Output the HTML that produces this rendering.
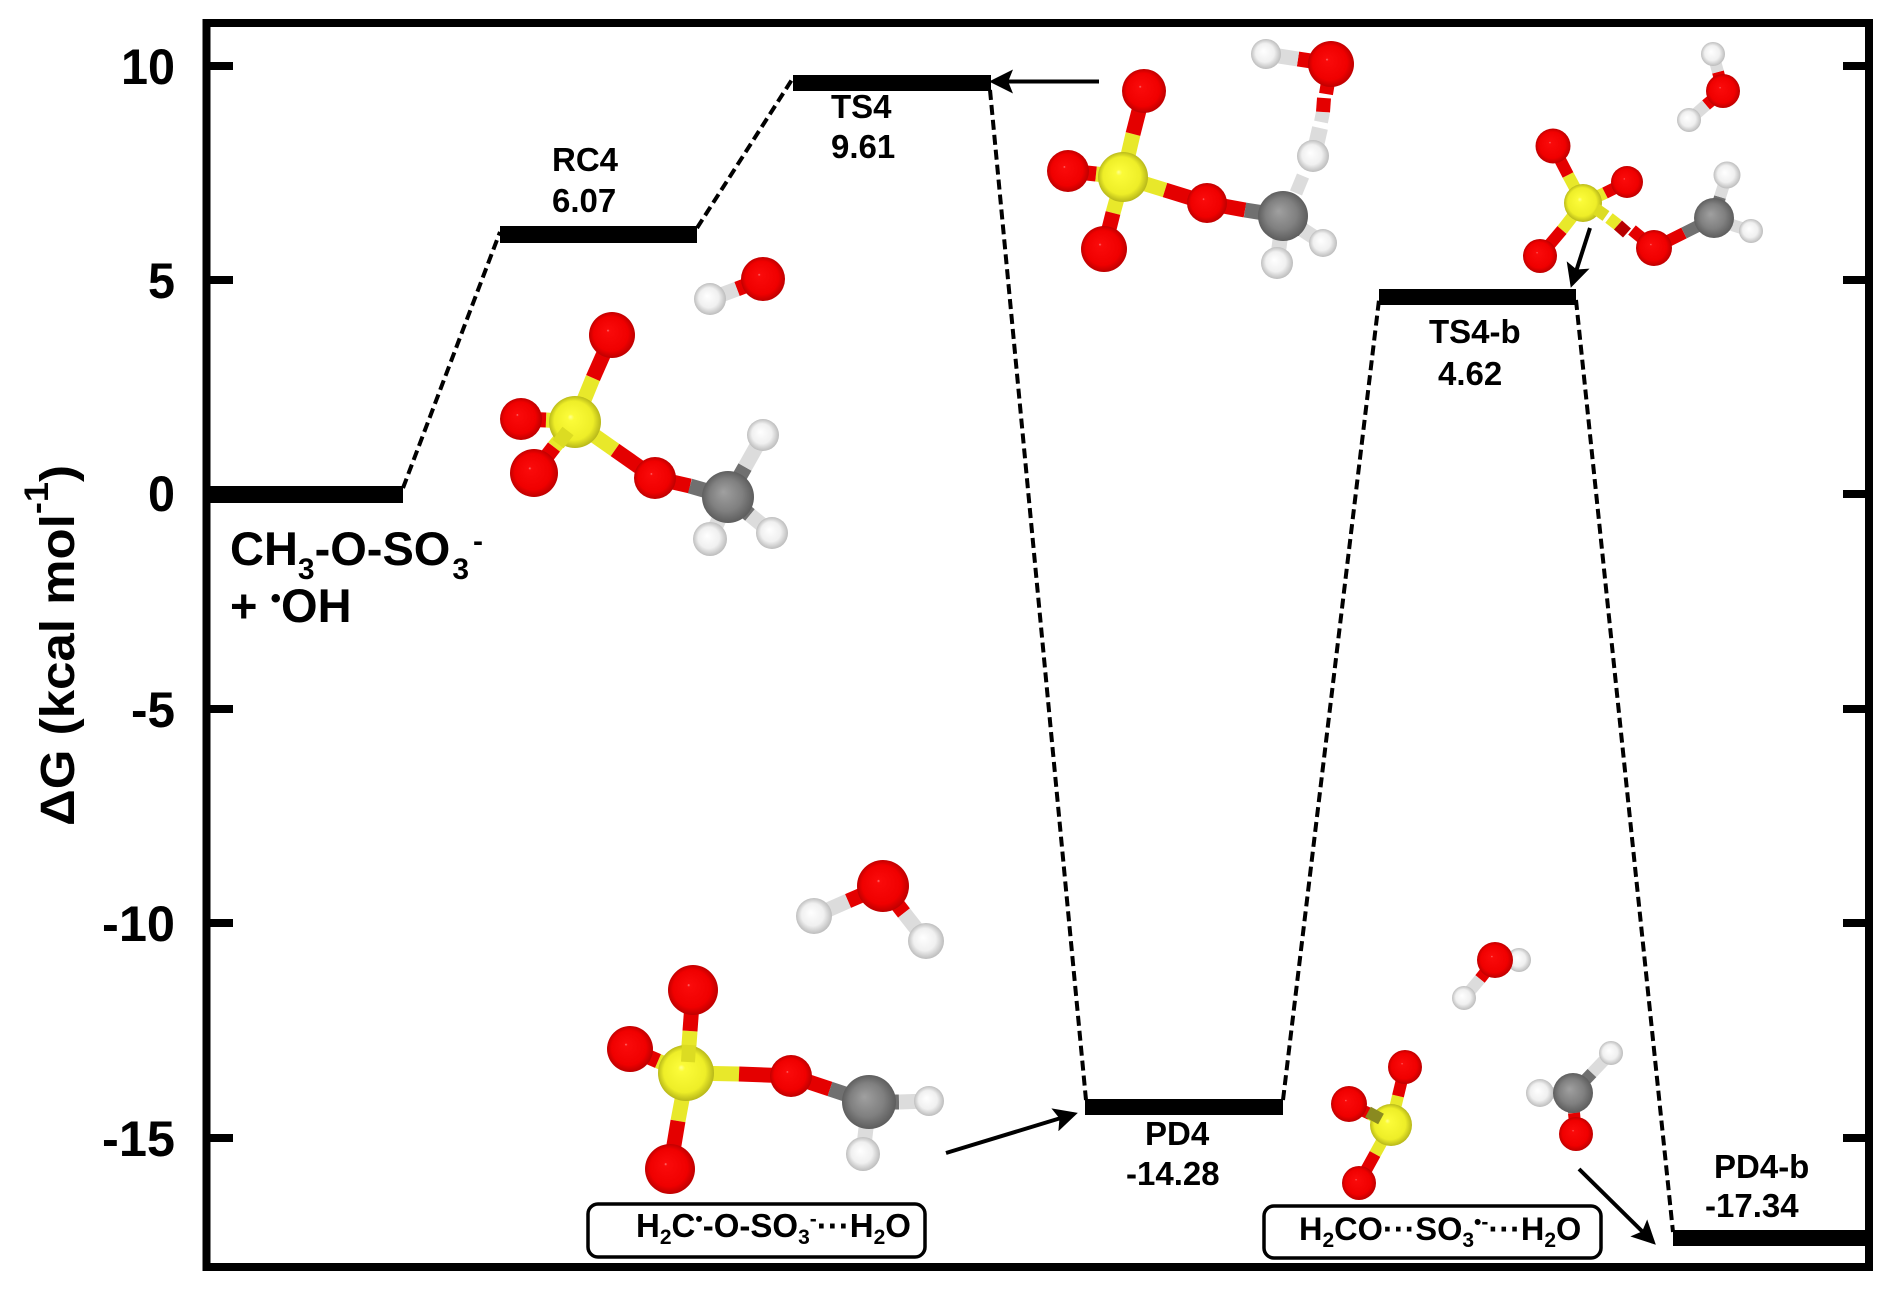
<!DOCTYPE html>
<html><head><meta charset="utf-8"><style>
html,body{margin:0;padding:0;background:#fff;width:1892px;height:1289px;overflow:hidden}
svg{display:block}
text{font-family:"Liberation Sans",sans-serif;font-weight:bold;fill:#000}
.y{stroke:#e8e82a}.r{stroke:#e40000}.g{stroke:#707070}.w{stroke:#dcdcdc}
line.b{stroke-width:15}
g.s line{stroke-width:12}
</style></head><body>
<svg xmlns="http://www.w3.org/2000/svg" width="1892" height="1289" viewBox="0 0 1892 1289">
<defs>
<radialGradient id="R" cx=".5" cy=".5" r=".52" fx=".41" fy=".4"><stop offset="0" stop-color="#ff8080"/><stop offset=".06" stop-color="#fa0a0a"/><stop offset=".72" stop-color="#f00000"/><stop offset="1" stop-color="#b80000"/></radialGradient>
<radialGradient id="Y" cx=".5" cy=".5" r=".52" fx=".41" fy=".4"><stop offset="0" stop-color="#ffff90"/><stop offset=".12" stop-color="#fbfb38"/><stop offset=".72" stop-color="#eeee28"/><stop offset="1" stop-color="#b0b018"/></radialGradient>
<radialGradient id="G" cx=".5" cy=".5" r=".52" fx=".41" fy=".4"><stop offset="0" stop-color="#a0a0a0"/><stop offset=".6" stop-color="#808080"/><stop offset="1" stop-color="#5a5a5a"/></radialGradient>
<radialGradient id="W" cx=".5" cy=".5" r=".52" fx=".41" fy=".4"><stop offset="0" stop-color="#fff"/><stop offset=".6" stop-color="#f0f0f0"/><stop offset="1" stop-color="#b8b8b8"/></radialGradient>
<marker id="a" markerWidth="6" markerHeight="6" refX="5" refY="3" orient="auto" markerUnits="strokeWidth"><path d="M0 0L6 3L0 6L1.200 3Z" fill="#000"/></marker>
</defs>

<!-- frame -->
<rect x="206.500" y="23" width="1662.500" height="1244" fill="none" stroke="#000" stroke-width="8"/>
<g fill="#000">
<rect x="210" y="62" width="23" height="8"/><rect x="210" y="276" width="23" height="8"/><rect x="210" y="705" width="23" height="8"/><rect x="210" y="919" width="23" height="8"/><rect x="210" y="1134" width="23" height="8"/>
<rect x="1843" y="62" width="23" height="8"/><rect x="1843" y="276" width="23" height="8"/><rect x="1843" y="490" width="23" height="8"/><rect x="1843" y="705" width="23" height="8"/><rect x="1843" y="919" width="23" height="8"/><rect x="1843" y="1134" width="23" height="8"/>
<!-- levels -->
<rect x="210" y="486" width="193" height="17"/>
<rect x="500" y="226" width="197" height="17"/>
<rect x="793" y="75" width="198" height="16"/>
<rect x="1379" y="289" width="197" height="16"/>
<rect x="1085" y="1099" width="198" height="16"/>
<rect x="1673" y="1230" width="192" height="16"/>
</g>
<!-- dashed connectors -->
<g stroke="#000" stroke-width="4" stroke-dasharray="10 5" fill="none">
<path d="M403 488L500 232"/><path d="M697 228L793 78"/><path d="M990 90L1086 1100"/><path d="M1283 1100L1379 300"/><path d="M1576 300L1673 1232"/>
</g>
<!-- arrows -->
<g stroke="#000" stroke-width="4" fill="none">
<line x1="1099" y1="81.500" x2="993" y2="81.500" marker-end="url(#a)"/>
<line x1="946" y1="1153" x2="1074" y2="1114" marker-end="url(#a)"/>
<line x1="1579" y1="1169" x2="1653" y2="1242" marker-end="url(#a)"/>
</g>

<!-- axis labels -->
<g font-size="50">
<text x="121" y="84" textLength="54" lengthAdjust="spacingAndGlyphs">10</text>
<text x="148" y="298" textLength="27" lengthAdjust="spacingAndGlyphs">5</text>
<text x="148" y="511" textLength="27" lengthAdjust="spacingAndGlyphs">0</text>
<text x="131" y="727" textLength="44" lengthAdjust="spacingAndGlyphs">-5</text>
<text x="102" y="941" textLength="73" lengthAdjust="spacingAndGlyphs">-10</text>
<text x="102" y="1156" textLength="73" lengthAdjust="spacingAndGlyphs">-15</text>
</g>
<text transform="translate(74,826) rotate(-90)" font-size="48" textLength="361" lengthAdjust="spacingAndGlyphs">ΔG (kcal mol<tspan font-size="34" dy="-26">-1</tspan><tspan dy="26">)</tspan></text>

<!-- level labels -->
<g font-size="33">
<text x="552" y="171">RC4</text><text x="552" y="212">6.07</text>
<text x="831" y="118">TS4</text><text x="831" y="158">9.61</text>
<text x="1429" y="343">TS4-b</text><text x="1438" y="385">4.62</text>
<text x="1145" y="1145">PD4</text><text x="1126" y="1185">-14.28</text>
<text x="1714" y="1178">PD4-b</text><text x="1705" y="1217">-17.34</text>
</g>
<text x="230" y="565" font-size="47">CH<tspan font-size="30" dy="14">3</tspan><tspan dy="-14">-O-SO</tspan><tspan font-size="30" dy="14" dx="2">3</tspan><tspan font-size="30" dy="-28" dx="4">-</tspan></text>
<text x="230" y="622" font-size="47">+ <tspan font-size="30" dy="-14">•</tspan><tspan dy="14">OH</tspan></text>

<!-- boxes -->
<rect x="588" y="1204" width="337" height="53" rx="10" fill="#fff" stroke="#000" stroke-width="3.500"/>
<rect x="1264" y="1206" width="337" height="52" rx="10" fill="#fff" stroke="#000" stroke-width="3.500"/>
<text x="636" y="1237" font-size="33">H<tspan font-size="21" dy="7">2</tspan><tspan dy="-7">C</tspan><tspan font-size="21" dy="-11">•</tspan><tspan dy="11">-O-SO</tspan><tspan font-size="21" dy="7">3</tspan><tspan font-size="21" dy="-18">-</tspan><tspan dy="11">···H</tspan><tspan font-size="21" dy="7">2</tspan><tspan dy="-7">O</tspan></text>
<text x="1299" y="1240" font-size="32.500">H<tspan font-size="21" dy="7">2</tspan><tspan dy="-7">CO···SO</tspan><tspan font-size="21" dy="7">3</tspan><tspan font-size="21" dy="-18">•-</tspan><tspan dy="11">···H</tspan><tspan font-size="21" dy="7">2</tspan><tspan dy="-7">O</tspan></text>

<!-- molecule RC4 -->
<g>
<line class="b y" x1="575" y1="422" x2="593" y2="378"/><line class="b r" x1="593" y1="378" x2="612" y2="335"/>
<line class="b y" x1="575" y1="422" x2="546" y2="420"/><line class="b r" x1="546" y1="420" x2="521" y2="419"/>
<line class="b y" x1="575" y1="422" x2="554" y2="447"/><line class="b r" x1="554" y1="447" x2="534" y2="473"/>
<line class="b y" x1="575" y1="422" x2="615" y2="450"/><line class="b r" x1="615" y1="450" x2="655" y2="478"/>
<line class="b r" x1="655" y1="478" x2="690" y2="486"/><line class="b g" x1="690" y1="486" x2="728" y2="497"/>
<line class="b g" x1="728" y1="497" x2="745" y2="467"/><line class="b w" x1="745" y1="467" x2="763" y2="435"/>
<line class="b g" x1="728" y1="497" x2="720" y2="517"/><line class="b w" x1="720" y1="517" x2="710" y2="539"/>
<line class="b g" x1="728" y1="497" x2="750" y2="515"/><line class="b w" x1="750" y1="515" x2="772" y2="533"/>
<line class="b r" x1="763" y1="279" x2="737" y2="289"/><line class="b w" x1="737" y1="289" x2="710" y2="299"/>
<circle cx="612" cy="335" r="23" fill="url(#R)"/><circle cx="521" cy="419" r="21" fill="url(#R)"/><circle cx="534" cy="473" r="24" fill="url(#R)"/>
<circle cx="575" cy="422" r="26" fill="url(#Y)"/>
<line x1="568" y1="431" x2="558" y2="444" stroke="#dcdc22" stroke-width="14"/>
<circle cx="655" cy="478" r="21" fill="url(#R)"/><circle cx="763" cy="435" r="16" fill="url(#W)"/><circle cx="710" cy="539" r="17" fill="url(#W)"/><circle cx="772" cy="533" r="16" fill="url(#W)"/>
<circle cx="728" cy="497" r="26" fill="url(#G)"/>
<circle cx="710" cy="299" r="16" fill="url(#W)"/><circle cx="763" cy="279" r="22" fill="url(#R)"/>
</g>

<!-- molecule TS4 -->
<g>
<line class="b y" x1="1123" y1="177" x2="1133" y2="134"/><line class="b r" x1="1133" y1="134" x2="1144" y2="91"/>
<line class="b y" x1="1123" y1="177" x2="1096" y2="174"/><line class="b r" x1="1096" y1="174" x2="1068" y2="171"/>
<line class="b y" x1="1123" y1="177" x2="1113" y2="213"/><line class="b r" x1="1113" y1="213" x2="1104" y2="249"/>
<line class="b y" x1="1123" y1="177" x2="1165" y2="190"/><line class="b r" x1="1165" y1="190" x2="1207" y2="203"/>
<line class="b r" x1="1207" y1="203" x2="1245" y2="210"/><line class="b g" x1="1245" y1="210" x2="1283" y2="216"/>
<line class="b g" x1="1283" y1="216" x2="1280" y2="240"/><line class="b w" x1="1280" y1="240" x2="1277" y2="263"/>
<line class="b g" x1="1283" y1="216" x2="1303" y2="230"/><line class="b w" x1="1303" y1="230" x2="1323" y2="243"/>
<line class="b r" x1="1331" y1="64" x2="1298" y2="59"/><line class="b w" x1="1298" y1="59" x2="1266" y2="54"/>
<line class="w" x1="1296" y1="193" x2="1303" y2="176" stroke-width="13"/>
<line class="w" x1="1320" y1="128" x2="1315" y2="150" stroke-width="16"/>
<line class="w" x1="1323" y1="112" x2="1321" y2="122" stroke-width="14"/>
<line class="r" x1="1324" y1="98" x2="1323" y2="112" stroke-width="14"/>
<line class="r" x1="1328" y1="82" x2="1326" y2="94" stroke-width="14"/>
<circle cx="1144" cy="91" r="22" fill="url(#R)"/><circle cx="1068" cy="171" r="21" fill="url(#R)"/><circle cx="1104" cy="249" r="23" fill="url(#R)"/>
<circle cx="1123" cy="177" r="25" fill="url(#Y)"/>
<circle cx="1207" cy="203" r="20" fill="url(#R)"/><circle cx="1277" cy="263" r="16" fill="url(#W)"/><circle cx="1323" cy="243" r="14" fill="url(#W)"/>
<circle cx="1283" cy="216" r="25" fill="url(#G)"/>
<circle cx="1313" cy="156" r="16" fill="url(#W)"/><circle cx="1266" cy="54" r="15" fill="url(#W)"/><circle cx="1331" cy="64" r="23" fill="url(#R)"/>
</g>

<!-- molecule TS4-b -->
<g class="s">
<line class="y" x1="1583" y1="203" x2="1568" y2="175"/><line class="r" x1="1568" y1="175" x2="1553" y2="146"/>
<line class="y" x1="1583" y1="203" x2="1605" y2="193"/><line class="r" x1="1605" y1="193" x2="1627" y2="182"/>
<line class="y" x1="1583" y1="203" x2="1562" y2="230"/><line class="r" x1="1562" y1="230" x2="1540" y2="256"/>
<line class="y" x1="1609" y1="218" x2="1618" y2="225"/><line x1="1618" y1="225" x2="1627" y2="233" stroke="#b80000"/>
<line class="r" x1="1632" y1="230" x2="1654" y2="248"/>
<line class="r" x1="1654" y1="248" x2="1684" y2="233"/><line class="g" x1="1684" y1="233" x2="1714" y2="218"/>
<line class="g" x1="1714" y1="218" x2="1720" y2="197"/><line class="w" x1="1720" y1="197" x2="1727" y2="175"/>
<line class="g" x1="1714" y1="218" x2="1732" y2="225"/><line class="w" x1="1732" y1="225" x2="1751" y2="231"/>
<line class="r" x1="1723" y1="91" x2="1718" y2="72"/><line class="w" x1="1718" y1="72" x2="1713" y2="54"/>
<line class="r" x1="1723" y1="91" x2="1706" y2="105"/><line class="w" x1="1706" y1="105" x2="1689" y2="120"/>
<circle cx="1553" cy="146" r="17.500" fill="url(#R)"/><circle cx="1627" cy="182" r="16" fill="url(#R)"/><circle cx="1540" cy="256" r="17" fill="url(#R)"/>
<circle cx="1583" cy="203" r="19" fill="url(#Y)"/>
<line x1="1596" y1="209" x2="1606" y2="216" stroke="#dcdc22"/>
<circle cx="1654" cy="248" r="18" fill="url(#R)"/><circle cx="1727" cy="175" r="13.500" fill="url(#W)"/><circle cx="1751" cy="231" r="12" fill="url(#W)"/>
<circle cx="1714" cy="218" r="20" fill="url(#G)"/>
<circle cx="1713" cy="54" r="12" fill="url(#W)"/><circle cx="1689" cy="120" r="12" fill="url(#W)"/><circle cx="1723" cy="91" r="17" fill="url(#R)"/>
<line x1="1590" y1="228" x2="1572" y2="284" stroke="#000" style="stroke-width:4" marker-end="url(#a)"/>
</g>

<!-- molecule PD4 -->
<g>
<line class="b y" x1="687" y1="1073" x2="690" y2="1031"/><line class="b r" x1="690" y1="1031" x2="693" y2="990"/>
<line class="b y" x1="687" y1="1073" x2="658" y2="1061"/><line class="b r" x1="658" y1="1061" x2="630" y2="1049"/>
<line class="b y" x1="687" y1="1073" x2="678" y2="1121"/><line class="b r" x1="678" y1="1121" x2="670" y2="1169"/>
<line class="b y" x1="687" y1="1073" x2="739" y2="1074"/><line class="b r" x1="739" y1="1074" x2="791" y2="1076"/>
<line class="b r" x1="791" y1="1076" x2="830" y2="1089"/><line class="b g" x1="830" y1="1089" x2="869" y2="1102"/>
<line class="b g" x1="869" y1="1102" x2="899" y2="1102"/><line class="b w" x1="899" y1="1102" x2="929" y2="1101"/>
<line class="b g" x1="869" y1="1102" x2="866" y2="1128"/><line class="b w" x1="866" y1="1128" x2="863" y2="1154"/>
<line class="b r" x1="883" y1="886" x2="848" y2="901"/><line class="b w" x1="848" y1="901" x2="814" y2="916"/>
<line class="b r" x1="883" y1="886" x2="904" y2="913"/><line class="b w" x1="904" y1="913" x2="926" y2="941"/>
<circle cx="693" cy="990" r="25" fill="url(#R)"/><circle cx="630" cy="1049" r="23" fill="url(#R)"/><circle cx="670" cy="1169" r="25" fill="url(#R)"/>
<circle cx="686" cy="1073" r="28" fill="url(#Y)"/>
<line x1="688" y1="1062" x2="689" y2="1045" stroke="#dcdc22" stroke-width="14"/>
<circle cx="791" cy="1076" r="21" fill="url(#R)"/><circle cx="929" cy="1101" r="15" fill="url(#W)"/><circle cx="863" cy="1154" r="17" fill="url(#W)"/>
<circle cx="869" cy="1102" r="27" fill="url(#G)"/>
<circle cx="814" cy="916" r="18" fill="url(#W)"/><circle cx="926" cy="941" r="18" fill="url(#W)"/><circle cx="883" cy="886" r="26" fill="url(#R)"/>
</g>

<!-- molecule PD4-b -->
<g class="s">
<line class="y" x1="1391" y1="1125" x2="1398" y2="1096"/><line class="r" x1="1398" y1="1096" x2="1405" y2="1067"/>
<line class="y" x1="1391" y1="1125" x2="1370" y2="1114"/><line class="r" x1="1370" y1="1114" x2="1349" y2="1104"/>
<line class="y" x1="1391" y1="1125" x2="1375" y2="1154"/><line class="r" x1="1375" y1="1154" x2="1359" y2="1183"/>
<line class="g" x1="1573" y1="1093" x2="1556" y2="1093"/><line class="w" x1="1556" y1="1093" x2="1540" y2="1093"/>
<line class="g" x1="1573" y1="1093" x2="1592" y2="1073"/><line class="w" x1="1592" y1="1073" x2="1611" y2="1053"/>
<line class="g" x1="1573" y1="1093" x2="1574" y2="1113"/><line class="r" x1="1574" y1="1113" x2="1576" y2="1134"/>
<line class="r" x1="1495" y1="960" x2="1480" y2="979"/><line class="w" x1="1480" y1="979" x2="1464" y2="998"/>
<circle cx="1405" cy="1067" r="17" fill="url(#R)"/><circle cx="1349" cy="1104" r="18" fill="url(#R)"/><circle cx="1359" cy="1183" r="17" fill="url(#R)"/>
<circle cx="1391" cy="1125" r="21" fill="url(#Y)"/>
<line x1="1381" y1="1119" x2="1368" y2="1112" stroke="#8a8a20"/>
<circle cx="1540" cy="1093" r="14" fill="url(#W)"/><circle cx="1611" cy="1053" r="12" fill="url(#W)"/><circle cx="1576" cy="1134" r="17" fill="url(#R)"/>
<circle cx="1573" cy="1093" r="20" fill="url(#G)"/>
<circle cx="1519" cy="960" r="12" fill="url(#W)"/><circle cx="1464" cy="998" r="12" fill="url(#W)"/><circle cx="1495" cy="960" r="18" fill="url(#R)"/>
</g>
</svg>
</body></html>
